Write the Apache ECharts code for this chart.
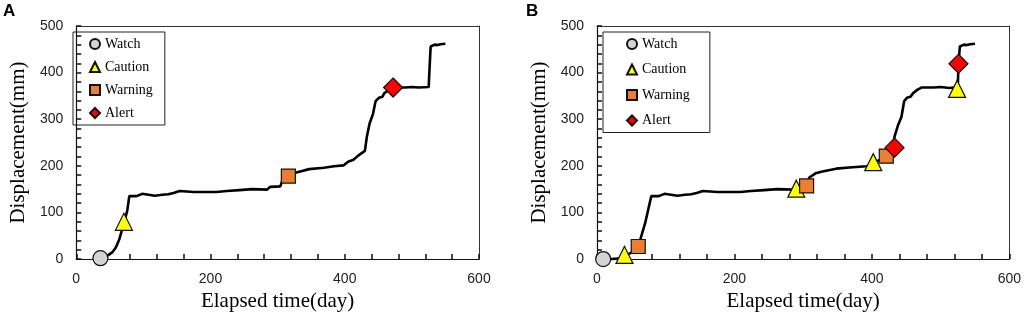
<!DOCTYPE html>
<html>
<head>
<meta charset="utf-8">
<script src="https://cdn.jsdelivr.net/npm/echarts@6/dist/echarts.min.js"></script>
<style>
  html, body { margin: 0; padding: 0; background: #fff; }
  #wrap { width: 1024px; height: 317px; display: flex; }
  .panel { width: 512px; height: 317px; }
</style>
</head>
<body>
<div id="wrap">
  <div class="panel" id="chartA"></div>
  <div class="panel" id="chartB"></div>
</div>
<script>
// displacement curve, [day, mm]
const curveA = [
  [30, 0], [36, 2], [47, 8], [54, 15], [59, 25], [64, 42], [71, 77], [76, 104], [79, 135],
  [90, 135], [98, 140], [103, 139], [117, 136], [128, 138], [137, 139], [145, 142], [154, 146],
  [175, 144], [195, 144], [209, 144], [224, 146], [243, 148], [262, 150], [284, 149], [289, 155],
  [304, 156], [307, 168], [316, 178], [328, 186], [347, 193], [369, 196], [384, 199], [398, 201],
  [405, 209], [413, 213], [420, 222], [430, 232], [433, 263], [437, 291], [442, 311], [446, 339],
  [451, 346], [456, 348], [459, 356], [466, 363], [472, 368], [490, 368], [500, 369], [510, 368],
  [525, 369], [527, 429], [528, 456], [534, 460], [538, 459], [543, 461], [550, 462]
];
const curveB = [
  [9, 0], [21, 0], [30, 1], [40, 6], [50, 14], [60, 27], [70, 77], [79, 135],
  [90, 135], [98, 140], [103, 139], [117, 136], [128, 138], [137, 139], [145, 142], [154, 146],
  [175, 144], [195, 144], [209, 144], [224, 146], [243, 148], [262, 150], [284, 149], [289, 153],
  [304, 156], [309, 175], [318, 184], [328, 188], [348, 194], [372, 197], [392, 199], [398, 201],
  [405, 209], [413, 213], [421, 222], [430, 232], [433, 263], [438, 287], [443, 305], [447, 339],
  [451, 346], [456, 348], [460, 356], [466, 363], [472, 368], [490, 368], [500, 369], [513, 367],
  [525, 369], [526, 419], [528, 456], [534, 460], [538, 459], [543, 461], [550, 462]
];

// alarm points, [day, mm]
const watchA = [[36, 2]];
const cautionA = [[71, 80]];
const warningA = [[316, 178]];
const alertA = [[472, 368]];

const watchB = [[9, 0]];
const cautionB = [[40, 9], [290, 151], [402, 208], [524, 365]];
const warningB = [[60, 27], [305, 157], [421, 221]];
const alertB = [[433, 239], [526, 419]];

const levelNames = ['Watch', 'Caution', 'Warning', 'Alert'];
const xTicks = { min: 0, max: 600, interval: 200 };
const yTicks = { min: 0, max: 500, interval: 100 };

const serifFont = '"Liberation Serif", "Times New Roman", serif';
const sansFont = '"Liberation Sans", Arial, sans-serif';

// frame lines on top / right, no ticks or labels
function frameAxis(pos, range) {
  return {
    type: 'value', position: pos, min: range.min, max: range.max, interval: range.interval,
    axisLine: { show: true, onZero: false, lineStyle: { color: '#333', width: 1 } },
    axisTick: { show: false }, axisLabel: { show: false }, splitLine: { show: false }
  };
}

function mainAxis(name, nameGap, range) {
  return {
    type: 'value', min: range.min, max: range.max, interval: range.interval,
    name: name, nameLocation: 'middle', nameGap: nameGap,
    nameTextStyle: { fontFamily: serifFont, fontSize: 21, color: '#000' },
    axisLine: { show: true, onZero: false, lineStyle: { color: '#111', width: 1.2 } },
    axisTick: { show: true, inside: true, length: 5, lineStyle: { color: '#111', width: 1.5 } },
    minorTick: { show: true, splitNumber: 5, length: 5, lineStyle: { color: '#111', width: 1.5 } },
    axisLabel: { fontFamily: sansFont, fontSize: 14, color: '#222', margin: 13 },
    splitLine: { show: false }
  };
}

function makeOption(letter, curve, points, layout) {
  const markerStyles = [
    { symbol: 'circle', size: 15, color: '#d4d4d4' },
    { symbol: 'triangle', size: 17, color: '#ffff00' },
    { symbol: 'rect', size: 14, color: '#ed7d31' },
    { symbol: 'diamond', size: 19, color: '#ff0000' }
  ];
  const markerSeries = levelNames.map((name, i) => ({
    name: name,
    type: 'scatter',
    clip: false,
    symbol: markerStyles[i].symbol,
    symbolSize: markerStyles[i].size,
    itemStyle: { color: markerStyles[i].color, borderColor: '#111', borderWidth: 1.2, opacity: 1 },
    data: points[i],
    z: 3 + i
  }));
  return {
    animation: false,
    title: {
      text: letter, left: layout.letterLeft, top: 3, padding: 0,
      textStyle: { fontFamily: sansFont, fontWeight: 'bold', fontSize: 17, color: '#000' }
    },
    legend: {
      data: levelNames,
      orient: 'vertical',
      left: layout.legendLeft, top: 32,
      padding: layout.legendPadding,
      itemGap: layout.legendGap,
      itemWidth: 10, itemHeight: 10, itemTextGap: 3,
      borderColor: '#222', borderWidth: 1,
      textStyle: { fontFamily: serifFont, fontSize: 14, color: '#000' }
    },
    grid: { left: layout.gridLeft, right: layout.gridRight, top: 26, bottom: 50 },
    xAxis: [mainAxis('Elapsed time(day)', 24, xTicks), frameAxis('top', xTicks)],
    yAxis: [mainAxis('Displacement(mm)', layout.yNameGap, yTicks), frameAxis('right', yTicks)],
    series: [{
      name: 'Displacement',
      type: 'line',
      showSymbol: false,
      data: curve,
      lineStyle: { color: '#000', width: 2.6 },
      itemStyle: { color: '#000' },
      z: 2
    }].concat(markerSeries)
  };
}

const chartA = echarts.init(document.getElementById('chartA'));
chartA.setOption(makeOption('A', curveA, [watchA, cautionA, warningA, alertA], {
  letterLeft: 3, legendLeft: 73, legendPadding: [5, 12, 5, 16], legendGap: 9,
  gridLeft: 66, gridRight: 33, yNameGap: 43
}));

const chartB = echarts.init(document.getElementById('chartB'));
chartB.setOption(makeOption('B', curveB, [watchB, cautionB, warningB, alertB], {
  letterLeft: 14, legendLeft: 91, legendPadding: [5, 20, 5, 23], legendGap: 11.5,
  gridLeft: 85, gridRight: 14, yNameGap: 45
}));
</script>
</body>
</html>
